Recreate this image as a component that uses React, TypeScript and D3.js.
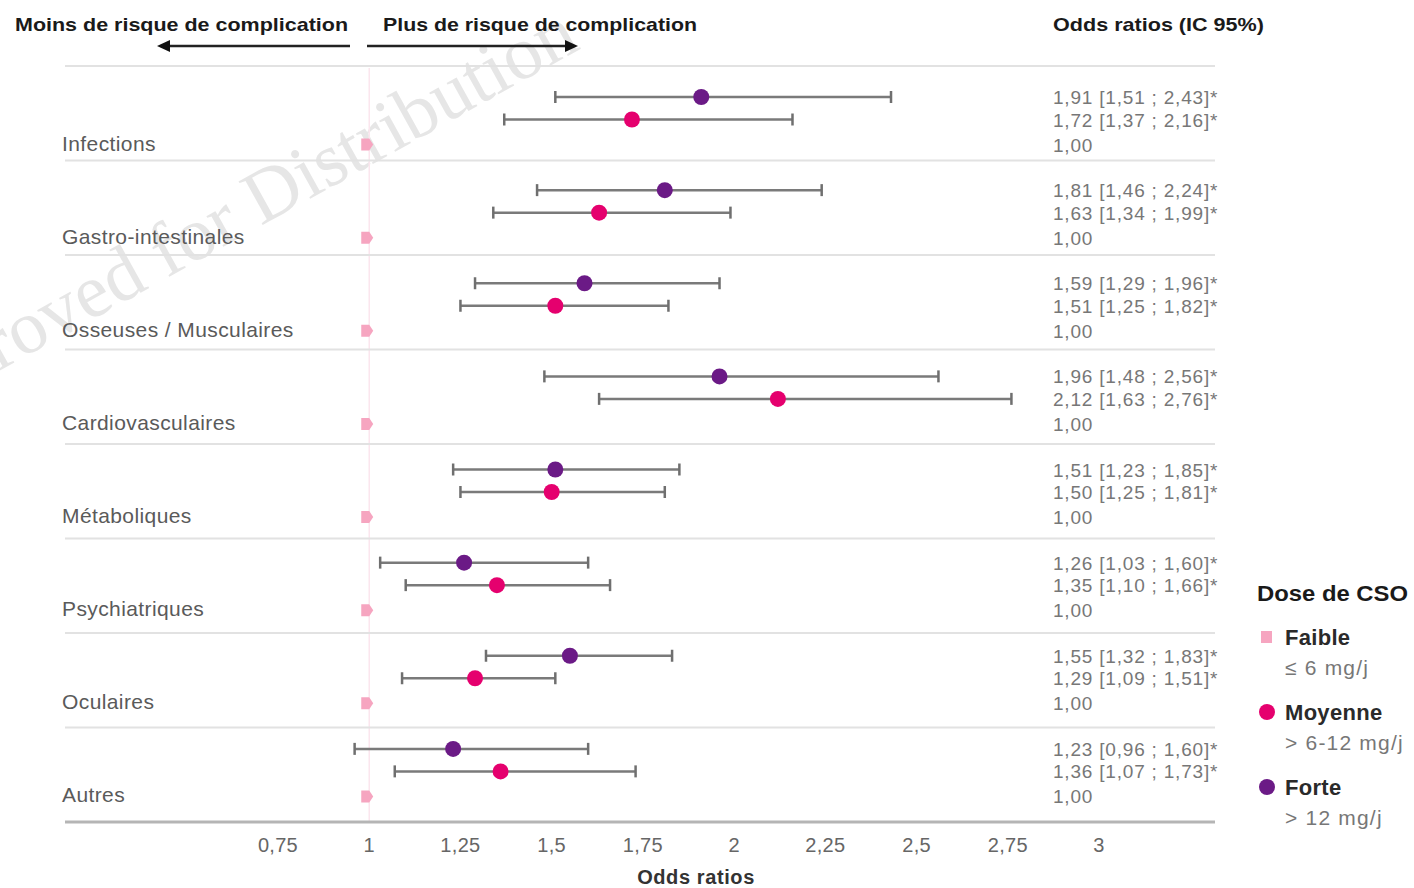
import React from 'react';
import * as d3 from 'd3';

// categories of complications, top to bottom
const categories = [
  'Infections',
  'Gastro-intestinales',
  'Osseuses / Musculaires',
  'Cardiovasculaires',
  'Métaboliques',
  'Psychiatriques',
  'Oculaires',
  'Autres',
];

// forte dose (> 12 mg/j): OR, lower, upper
const forteOR = [1.91, 1.81, 1.59, 1.96, 1.51, 1.26, 1.55, 1.23];
const forteLow = [1.51, 1.46, 1.29, 1.48, 1.23, 1.03, 1.32, 0.96];
const forteHigh = [2.43, 2.24, 1.96, 2.56, 1.85, 1.60, 1.83, 1.60];

// moyenne dose (> 6-12 mg/j)
const moyOR = [1.72, 1.63, 1.51, 2.12, 1.50, 1.35, 1.29, 1.36];
const moyLow = [1.37, 1.34, 1.25, 1.63, 1.25, 1.10, 1.09, 1.07];
const moyHigh = [2.16, 1.99, 1.82, 2.76, 1.81, 1.66, 1.51, 1.73];

// faible dose = reference
const faibleOR = [1, 1, 1, 1, 1, 1, 1, 1];

const xTicks = [0.75, 1, 1.25, 1.5, 1.75, 2, 2.25, 2.5, 2.75, 3];

const legendItems = [
  { name: 'Faible', sub: '≤ 6 mg/j', key: 'faible' },
  { name: 'Moyenne', sub: '> 6-12 mg/j', key: 'moyenne' },
  { name: 'Forte', sub: '> 12 mg/j', key: 'forte' },
];

const COLORS: Record<string, string> = {
  forte: '#6b1a86',
  moyenne: '#e5006e',
  faible: '#f6a5c0',
};

const fr = (v: number) => d3.format('.2f')(v).replace('.', ',');
const frTick = (v: number) => String(v).replace('.', ',');

const FONT = '"Liberation Sans", Arial, Helvetica, sans-serif';

export default function App() {
  const width = 1414;
  const height = 888;

  const x = d3.scaleLinear().domain([0.75, 3]).range([278, 1099]);
  // separators and marks sit on slightly different pitches in the original
  const ySep = d3.scaleBand().domain(categories).range([66, 822]);
  const y = d3.scaleBand().domain(categories).range([72, 817]);

  const rowLeft = 65;
  const rowRight = 1215;
  const offForte = 25;
  const offMoy = 47.5;
  const offFaible = 72.5;

  const ci = (c: string, i: number, low: number, high: number, or: number, off: number, key: string) => {
    const yy = (y(c) as number) + off;
    return (
      <g key={key + i}>
        <line x1={x(low)} x2={x(high)} y1={yy} y2={yy} stroke="#7a7a7a" strokeWidth={2.5} />
        <line x1={x(low)} x2={x(low)} y1={yy - 6} y2={yy + 6} stroke="#6f6f6f" strokeWidth={2.5} />
        <line x1={x(high)} x2={x(high)} y1={yy - 6} y2={yy + 6} stroke="#6f6f6f" strokeWidth={2.5} />
        <circle cx={x(or)} cy={yy} r={8} fill={COLORS[key]} />
      </g>
    );
  };

  return (
    <svg width={width} height={height} style={{ position: 'absolute', left: 0, top: 0, background: '#fff' }}>
      {/* watermark */}
      <text
        x={582}
        y={48}
        textAnchor="end"
        transform="rotate(-29 582 48)"
        fontFamily='"Liberation Serif", "DejaVu Serif", serif'
        fontSize={76}
        fill="#dedede"
        opacity={0.75}
      >
        Approved for Distribution
      </text>

      {/* header */}
      <text x={15} y={31} fontFamily={FONT} fontWeight="bold" fontSize={19} fill="#1a1a1a" textLength={333} lengthAdjust="spacingAndGlyphs">
        Moins de risque de complication
      </text>
      <text x={383} y={31} fontFamily={FONT} fontWeight="bold" fontSize={19} fill="#1a1a1a" textLength={314} lengthAdjust="spacingAndGlyphs">
        Plus de risque de complication
      </text>
      <text x={1053} y={31} fontFamily={FONT} fontWeight="bold" fontSize={19} fill="#1a1a1a" textLength={211} lengthAdjust="spacingAndGlyphs">
        Odds ratios (IC 95%)
      </text>
      <line x1={350} x2={168} y1={46} y2={46} stroke="#222" strokeWidth={2.5} />
      <path d="M157,46 L170,40 L170,52 Z" fill="#111" />
      <line x1={367} x2={566} y1={46} y2={46} stroke="#222" strokeWidth={2.5} />
      <path d="M578,46 L565,40 L565,52 Z" fill="#111" />

      {/* reference line at OR = 1 */}
      <line x1={x(1)} x2={x(1)} y1={68} y2={822} stroke="#fbe6ee" strokeWidth={1.5} />

      {/* row separators */}
      {categories.map((c) => (
        <line key={'sep' + c} x1={rowLeft} x2={rowRight} y1={ySep(c)} y2={ySep(c)} stroke="#e2e2e2" strokeWidth={2} />
      ))}
      <line x1={rowLeft} x2={rowRight} y1={822} y2={822} stroke="#b5b5b5" strokeWidth={3} />

      {/* category labels */}
      {categories.map((c) => (
        <text key={'lab' + c} x={62} y={(y(c) as number) + offFaible + 6} fontFamily={FONT} fontSize={21} fill="#5a5a5a" letterSpacing={0.4}>
          {c}
        </text>
      ))}

      {/* CIs */}
      {categories.map((c, i) => ci(c, i, forteLow[i], forteHigh[i], forteOR[i], offForte, 'forte'))}
      {categories.map((c, i) => ci(c, i, moyLow[i], moyHigh[i], moyOR[i], offMoy, 'moyenne'))}

      {/* faible reference markers */}
      {categories.map((c, i) => {
        const cx = x(faibleOR[i]) - 3;
        const cy = (y(c) as number) + offFaible;
        return (
          <path key={'fb' + c} d={`M${cx - 5},${cy - 6} L${cx + 3},${cy - 6} L${cx + 7},${cy} L${cx + 3},${cy + 6} L${cx - 5},${cy + 6} Z`} fill={COLORS.faible} />
        );
      })}

      {/* OR text column */}
      {categories.map((c, i) => {
        const top = y(c) as number;
        const lines = [
          { t: `${fr(forteOR[i])} [${fr(forteLow[i])} ; ${fr(forteHigh[i])}]*`, off: offForte },
          { t: `${fr(moyOR[i])} [${fr(moyLow[i])} ; ${fr(moyHigh[i])}]*`, off: offMoy },
          { t: fr(faibleOR[i]), off: offFaible },
        ];
        return lines.map((l, j) => (
          <text key={'or' + i + '-' + j} x={1053} y={top + l.off + 7} fontFamily={FONT} fontSize={19} fill="#777" letterSpacing={0.8}>
            {l.t}
          </text>
        ));
      })}

      {/* x axis ticks */}
      {xTicks.map((t) => (
        <text key={'t' + t} x={x(t)} y={852} textAnchor="middle" fontFamily={FONT} fontSize={20} fill="#666" letterSpacing={0.3}>
          {frTick(t)}
        </text>
      ))}
      <text x={696} y={884} textAnchor="middle" fontFamily={FONT} fontWeight="bold" fontSize={20} fill="#333" letterSpacing={0.6}>
        Odds ratios
      </text>

      {/* legend */}
      <text x={1257} y={601} fontFamily={FONT} fontWeight="bold" fontSize={22} fill="#1a1a1a" textLength={151} lengthAdjust="spacingAndGlyphs">
        Dose de CSO
      </text>
      {legendItems.map((d, i) => {
        const ly = 637 + i * 75;
        return (
          <g key={d.key}>
            {d.key === 'faible' ? (
              <rect x={1261} y={ly - 6} width={11} height={12} fill={COLORS.faible} />
            ) : (
              <circle cx={1267} cy={ly} r={8} fill={COLORS[d.key]} />
            )}
            <text x={1285} y={ly + 8} fontFamily={FONT} fontWeight="bold" fontSize={22} fill="#2a2a2a" letterSpacing={0.3}>
              {d.name}
            </text>
            <text x={1285} y={ly + 38} fontFamily={FONT} fontSize={21} fill="#777" letterSpacing={1.2}>
              {d.sub}
            </text>
          </g>
        );
      })}
    </svg>
  );
}
